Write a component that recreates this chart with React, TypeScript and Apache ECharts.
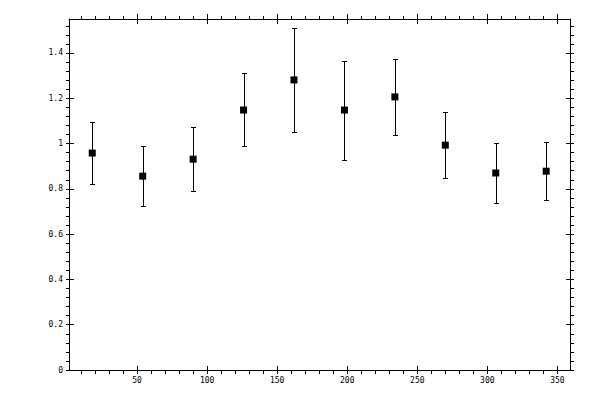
import React, { useEffect, useRef } from "react";
import * as echarts from "echarts";

// Data
const angles = [18, 54, 90, 126, 162, 198, 234, 270, 306, 342];
const means = [0.958, 0.856, 0.931, 1.148, 1.281, 1.148, 1.206, 0.993, 0.87, 0.878];
const upper = [1.093, 0.987, 1.071, 1.312, 1.509, 1.365, 1.374, 1.139, 1.002, 1.007];
const lower = [0.822, 0.724, 0.79, 0.989, 1.051, 0.927, 1.038, 0.847, 0.737, 0.75];

// Tick values
const xMajorTicks = [50, 100, 150, 200, 250, 300, 350];
const yMajorTicks = [0, 0.2, 0.4, 0.6, 0.8, 1, 1.2, 1.4];
const xMinorTicks = [10, 20, 30, 40, 50, 60, 70, 80, 90, 100, 110, 120, 130, 140, 150, 160, 170, 180, 190, 200, 210, 220, 230, 240, 250, 260, 270, 280, 290, 300, 310, 320, 330, 340, 350];
const yMinorTicks = [0, 0.04, 0.08, 0.12, 0.16, 0.2, 0.24, 0.28, 0.32, 0.36, 0.4, 0.44, 0.48, 0.52, 0.56, 0.6, 0.64, 0.68, 0.72, 0.76, 0.8, 0.84, 0.88, 0.92, 0.96, 1, 1.04, 1.08, 1.12, 1.16, 1.2, 1.24, 1.28, 1.32, 1.36, 1.4, 1.44, 1.48, 1.52];

const X_MIN = 1.4;
const X_MAX = 359;
const Y_MIN = 0;
const Y_MAX = 1.55;

const labelFont = {
  color: "#000",
  fontFamily: "DejaVu Sans Mono",
  fontSize: 8,
};

function makeX(position: "bottom" | "top", withLine: boolean, ticks: number[], inside: boolean, len: number, labels: boolean) {
  return {
    type: "value",
    position,
    min: X_MIN,
    max: X_MAX,
    axisLine: { show: withLine, onZero: false, lineStyle: { color: "#000", width: 1 } },
    axisTick: { show: true, inside, length: len, customValues: ticks, lineStyle: { color: "#000", width: 1 } },
    axisLabel: labels
      ? { show: true, customValues: xMajorTicks, margin: 6, ...labelFont }
      : { show: false },
    splitLine: { show: false },
  };
}

function makeY(position: "left" | "right", withLine: boolean, ticks: number[], inside: boolean, len: number, labels: boolean) {
  return {
    type: "value",
    position,
    min: Y_MIN,
    max: Y_MAX,
    axisLine: { show: withLine, onZero: false, lineStyle: { color: "#000", width: 1 } },
    axisTick: { show: true, inside, length: len, customValues: ticks, lineStyle: { color: "#000", width: 1 } },
    axisLabel: labels
      ? { show: true, customValues: yMajorTicks, margin: 6, ...labelFont }
      : { show: false },
    splitLine: { show: false },
  };
}

export default function App() {
  const ref = useRef<HTMLDivElement>(null);

  useEffect(() => {
    if (!ref.current) return;
    const chart = echarts.init(ref.current, undefined, { renderer: "svg" });

    const errData = angles.map((a, i) => [a, lower[i], upper[i]]);
    const pointData = angles.map((a, i) => [a, means[i]]);

    chart.setOption({
      animation: false,
      backgroundColor: "#fff",
      grid: { left: 69, right: 30, top: 19, bottom: 30, containLabel: false },
      xAxis: [
        makeX("bottom", true, xMinorTicks, false, 4, true),
        makeX("bottom", false, xMajorTicks, true, 4, false),
        makeX("top", true, xMinorTicks, false, 3, false),
        makeX("top", false, xMajorTicks, false, 5, false),
        makeX("top", false, xMajorTicks, true, 5, false),
      ],
      yAxis: [
        makeY("left", true, yMinorTicks, false, 3, true),
        makeY("left", false, yMajorTicks, true, 5, false),
        makeY("right", true, yMinorTicks, false, 4, false),
        makeY("right", false, yMajorTicks, true, 4, false),
      ],
      series: [
        {
          type: "custom",
          xAxisIndex: 0,
          yAxisIndex: 0,
          data: errData,
          renderItem: (params: any, api: any) => {
            const x = api.value(0);
            const lo = api.value(1);
            const hi = api.value(2);
            const pLo = api.coord([x, lo]);
            const pHi = api.coord([x, hi]);
            const cx = Math.round(pLo[0]) + 0.5;
            const yLo = Math.round(pLo[1]) + 0.5;
            const yHi = Math.round(pHi[1]) + 0.5;
            const w = 2.5;
            const style = { stroke: "#000", lineWidth: 1 };
            return {
              type: "group",
              children: [
                { type: "line", shape: { x1: cx, y1: yHi, x2: cx, y2: yLo }, style },
                { type: "line", shape: { x1: cx - w, y1: yHi, x2: cx + w, y2: yHi }, style },
                { type: "line", shape: { x1: cx - w, y1: yLo, x2: cx + w, y2: yLo }, style },
              ],
            };
          },
          z: 2,
        },
        {
          type: "scatter",
          xAxisIndex: 0,
          yAxisIndex: 0,
          data: pointData,
          symbol: "rect",
          symbolSize: 7,
          itemStyle: { color: "#000", opacity: 1 },
          z: 3,
        },
      ],
    });

    return () => chart.dispose();
  }, []);

  return (
    <div
      ref={ref}
      style={{ position: "absolute", left: 0, top: 0, width: 600, height: 400, background: "#fff" }}
    />
  );
}
